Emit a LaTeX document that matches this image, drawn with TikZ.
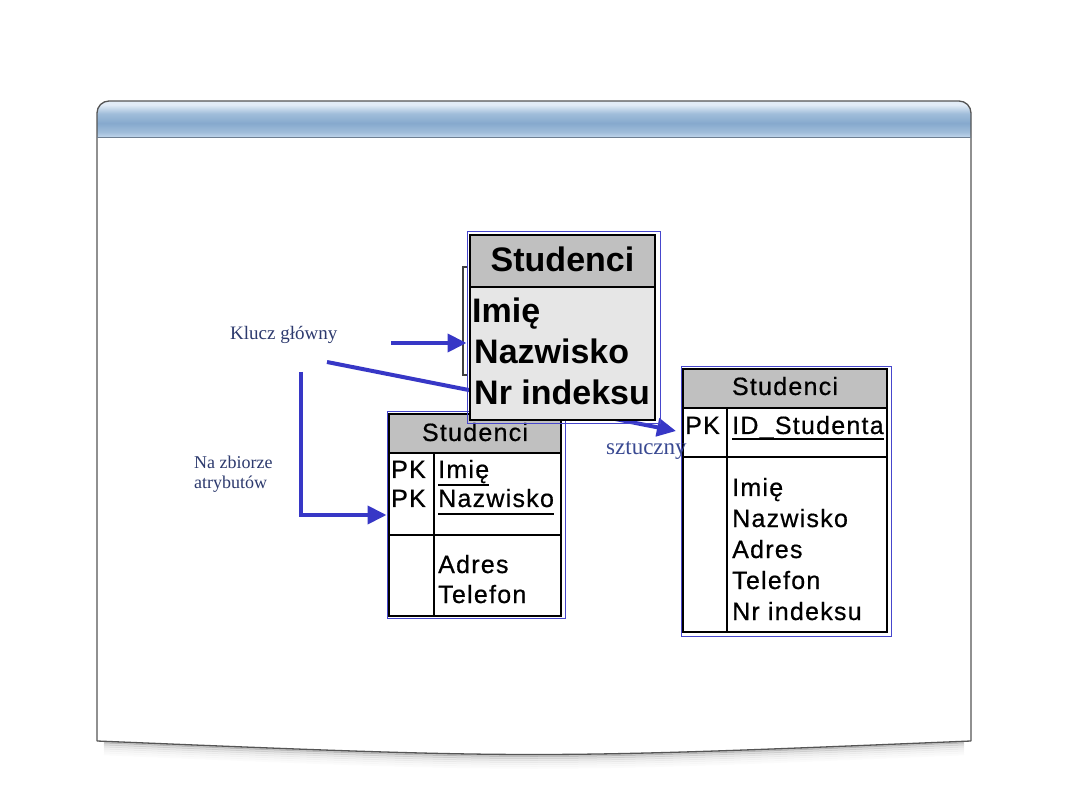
\documentclass[tikz,border=0pt]{standalone}
\usepackage{fontspec}
\setmainfont{Liberation Serif}
\newfontfamily\arial{Liberation Sans}
\newfontfamily\arialsp[LetterSpace=5,FakeBold=0.6]{Liberation Sans}
\usetikzlibrary{arrows.meta}
\definecolor{hdtop}{HTML}{E2ECF7}
\definecolor{hdmid}{HTML}{86A9CD}
\definecolor{hdmid2}{HTML}{A0BDDA}
\definecolor{hdbot}{HTML}{C6D9EE}
\definecolor{hdline}{HTML}{6E7F92}
\definecolor{framegray}{HTML}{555555}
\definecolor{hdgray}{HTML}{C0C0C0}
\definecolor{bodygray}{HTML}{E6E6E6}
\definecolor{arrowblue}{HTML}{3737C6}
\definecolor{frameblue}{HTML}{4646CC}
\definecolor{labelnavy}{HTML}{2D3A6E}
\definecolor{labelblue}{HTML}{3A4A92}
\pgfdeclareverticalshading{hdshade}{100bp}{color(0bp)=(hdbot); color(25bp)=(hdbot);
  color(33bp)=(hdmid2); color(45bp)=(hdmid); color(58bp)=(hdmid2); color(70bp)=(hdtop); color(75bp)=(hdtop); color(100bp)=(hdtop)}
\begin{document}
\begin{tikzpicture}[x=1pt,y=-1pt,
  blueframe/.style={draw=frameblue, line width=1pt, inner sep=0pt},
  tabline/.style={draw=black, line width=1.6pt},
  bigtxt/.style={inner sep=0pt, font=\arial\bfseries\fontsize{34}{40}\selectfont},
  smalltxt/.style={inner sep=0pt, font=\arialsp\fontsize{25}{28}\selectfont},
  ul/.style={draw=black, line width=1.6pt},
  conn/.style={draw=arrowblue, line width=4pt},
  tip/.style={-{Triangle[length=19pt,width=18pt]}},
  lbl/.style={inner sep=0pt, text=labelnavy, font=\fontsize{19}{20}\selectfont}
]
\useasboundingbox (0,0) rectangle (1080,810);
% ---- frame shadow
\foreach \i/\o in {1/0.22,3/0.14,5/0.09,7/0.06,9/0.04,11/0.025,13/0.015}
  \draw[line width=2.5pt, black, opacity=\o] (104,741+\i) .. controls (534,759+\i) .. (964,741+\i);
% ---- frame body
\fill[white] (97,120) -- (97,741) .. controls (534,759) .. (971,741) -- (971,120) -- cycle;
\shade[shading=hdshade, rounded corners=12pt]
  (97,138) -- (97,101) -- (971,101) -- (971,138);
\draw[framegray, line width=1.3pt, rounded corners=12pt]
  (97,741) -- (97,101) -- (971,101) -- (971,741);
\draw[framegray, line width=1.3pt] (97,741) .. controls (534,759) .. (971,741);
\draw[hdline, line width=1pt] (97,138) -- (971,138);
% ---- bracket behind the big table
\draw[black!75, line width=1.2pt] (467,267) -- (463,267) -- (463,375) -- (467,375);
% ---- long connector (passes behind the big table)
\coordinate (k2) at (327,362);
\coordinate (k2e) at (676,431);
\draw[conn, tip] (k2) -- (k2e);
% ---- lower-left table
\node[blueframe, minimum width=178pt, minimum height=206pt] (left) at (476,515) {};
\fill[white] (389,414) rectangle (561,616);
\fill[hdgray] (389,414) rectangle (561,453);
\draw[tabline] (389,414) rectangle (561,616);
\draw[tabline] (389,453) -- (561,453);
\draw[tabline] (389,535) -- (561,535);
\draw[tabline] (434,453) -- (434,616);
\node[smalltxt, anchor=base] (lT) at (475,441) {Studenci};
\node[smalltxt, anchor=base west] (lpk1) at (391,478) {PK};
\node[smalltxt, anchor=base west] (lpk2) at (391,507) {PK};
\node[smalltxt, anchor=base west] (l1) at (438,478) {Imię};
\node[smalltxt, anchor=base west] (l2) at (438,507) {Nazwisko};
\node[smalltxt, anchor=base west] (l3) at (438,573) {Adres};
\node[smalltxt, anchor=base west] (l4) at (438,603) {Telefon};
\draw[ul] ([yshift=-7pt]l1.base west) -- ([yshift=-7pt]l1.base east);
\draw[ul] ([yshift=-7pt]l2.base west) -- ([yshift=-7pt]l2.base east);
% ---- right table
\node[blueframe, minimum width=210pt, minimum height=269pt] (right) at (786,501.5) {};
\fill[white] (683,369) rectangle (887,632);
\fill[hdgray] (683,369) rectangle (887,408);
\draw[tabline] (683,369) rectangle (887,632);
\draw[tabline] (683,408) -- (887,408);
\draw[tabline] (683,457) -- (887,457);
\draw[tabline] (727,408) -- (727,632);
\node[smalltxt, anchor=base] (rT) at (785,395) {Studenci};
\node[smalltxt, anchor=base west] (rpk) at (685,434) {PK};
\node[smalltxt, anchor=base west] (r0) at (732,434) {ID\_Studenta};
\draw[ul] ([yshift=-5pt]r0.base west) -- ([yshift=-5pt]r0.base east);
\node[smalltxt, anchor=base west] (r1) at (732,496) {Imię};
\node[smalltxt, anchor=base west] (r2) at (732,527) {Nazwisko};
\node[smalltxt, anchor=base west] (r3) at (732,558) {Adres};
\node[smalltxt, anchor=base west] (r4) at (732,589) {Telefon};
\node[smalltxt, anchor=base west] (r5) at (732,620) {Nr indeksu};
% ---- big table
\node[blueframe, minimum width=193pt, minimum height=192pt] (big) at (563.5,328) {};
\fill[bodygray] (470,235) rectangle (655,420);
\fill[hdgray] (470,235) rectangle (655,287);
\draw[tabline, line width=2pt] (470,235) rectangle (655,420);
\draw[tabline, line width=1.4pt] (470,287) -- (655,287);
\node[bigtxt, anchor=base] (bT) at (562.5,272) {Studenci};
\node[bigtxt, anchor=base west] (b1) at (472,323) {Imię};
\node[bigtxt, anchor=base west] (b2) at (474,364) {Nazwisko};
\node[bigtxt, anchor=base west] (b3) at (474,405) {Nr indeksu};
% ---- other connectors
\coordinate (k1) at (391,343);
\draw[conn, tip] (k1) -- (k1 -| big.west);
\coordinate (k3) at (301,372);
\draw[conn, tip] (k3) |- (left.west |- 0,515);
% ---- labels
\node[lbl, anchor=base west] (klucz) at (230,340) {Klucz główny};
\node[lbl, anchor=base west, font=\fontsize{18}{20}\selectfont] (na1) at (194,468) {Na zbiorze};
\node[lbl, anchor=base west, font=\fontsize{18}{20}\selectfont] (na2) at (194,489) {atrybutów};
\node[lbl, anchor=base west, text=labelblue, font=\fontsize{23}{24}\selectfont] (szt) at (606,454) {sztuczny};
\end{tikzpicture}
\end{document}
